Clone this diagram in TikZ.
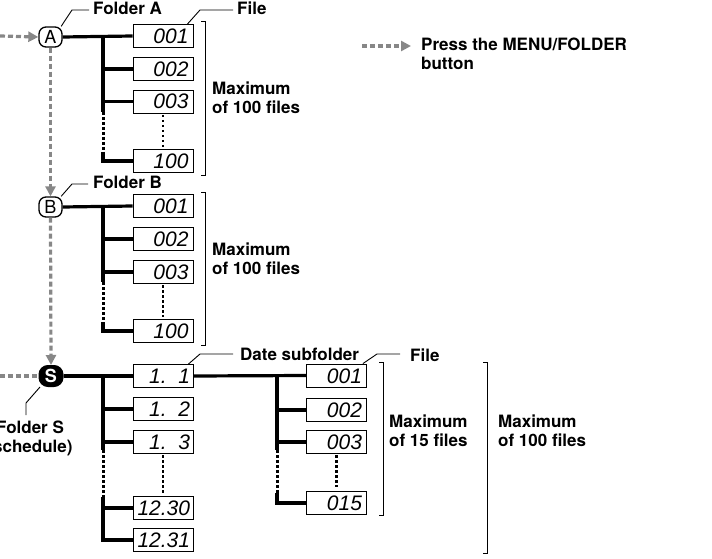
\documentclass[tikz,border=0pt]{standalone}
\usepackage{fontspec}
\setmainfont{TeX Gyre Heros}
\newfontfamily\lcdfont{Liberation Sans}
\usetikzlibrary{arrows.meta}
\begin{document}
\begin{tikzpicture}[x=1pt,y=-1pt,
  lbl/.style={font=\fontsize{17}{19}\selectfont\bfseries, inner sep=0pt, align=left},
  fold/.style={draw, line width=1.3pt, rounded corners=7pt, minimum width=23pt, minimum height=20pt, inner sep=0pt, font=\fontsize{18}{18}\selectfont},
  sfold/.style={draw, fill=black, text=white, line width=1pt, rounded corners=9pt, minimum width=24pt, minimum height=21pt, inner sep=0pt, font=\fontsize{18}{18}\selectfont\bfseries},
  lcd/.style={draw, line width=0.9pt, minimum width=60pt, minimum height=23pt, inner xsep=0pt, inner ysep=0pt, text width=51pt, align=right, text height=15pt, text depth=0pt, font=\lcdfont\itshape\fontsize{21}{21}\selectfont},
  branch/.style={line width=3.2pt},
  dots/.style={line width=3pt, dash pattern=on 3pt off 2pt},
  sdots/.style={line width=2.1pt, dash pattern=on 2.5pt off 2.5pt},
  brk/.style={line width=1pt},
  leader/.style={line width=0.9pt},
  garrow/.style={draw=black!47, line width=3.2pt, dash pattern=on 5pt off 3pt, -{Triangle[length=10pt,width=10pt]}},
  gline/.style={draw=black!47, line width=3.2pt, dash pattern=on 5pt off 3pt},
]
\useasboundingbox (0,0) rectangle (712,559);
\clip (0,0) rectangle (712,559);

% ---------- Folder A ----------
\node[fold] (A) at (50.5,37) {A};
\node[lcd] (fA1) at (163,36) {001};
\node[lcd] (fA2) at (163,69) {002};
\node[lcd] (fA3) at (163,101.5) {003};
\node[lcd] (fA4) at (163,161) {100};
\coordinate (tA) at (103,36);
\coordinate (tAd) at (103,112);
\coordinate (tAe) at (103,152);
\draw[branch] (A.east) -- (fA1.west);
\draw[branch] (tA) -- (tAd);
\draw[dots] (tAd) -- (tAe);
\draw[branch] (tAe) |- (fA4.west);
\draw[branch] (tA |- fA2.west) -- (fA2.west);
\draw[branch] (tA |- fA3.west) -- (fA3.west);
\draw[sdots, shorten <=1.5pt, shorten >=2pt] (fA3.south) -- (fA4.north);
\draw[brk] (201,22) -- (205,22) -- (205,175) -- (201,175);
\node[lbl, anchor=west] (mA) at (212,97.5) {Maximum\\of 100 files};
\node[lbl, anchor=west] (lA) at (93,8) {Folder A};
\draw[leader] (A.45) -- (72,10) -- (89,10);
\node[lbl, anchor=west] (fileA) at (237,8) {File};
\draw[leader] ([xshift=-6pt]fA1.north east) -- (200,10) -- (233,10);

% ---------- Folder B ----------
\node[fold] (B) at (50.5,207) {B};
\node[lcd] (fB1) at (163,206) {001};
\node[lcd] (fB2) at (163,239) {002};
\node[lcd] (fB3) at (163,272) {003};
\node[lcd] (fB4) at (163,331) {100};
\coordinate (tB) at (103,206);
\coordinate (tBd) at (103,282);
\coordinate (tBe) at (103,322);
\draw[branch] (B.east) -- (fB1.west);
\draw[branch] (tB) -- (tBd);
\draw[dots] (tBd) -- (tBe);
\draw[branch] (tBe) |- (fB4.west);
\draw[branch] (tB |- fB2.west) -- (fB2.west);
\draw[branch] (tB |- fB3.west) -- (fB3.west);
\draw[sdots, shorten <=1.5pt, shorten >=2pt] (fB3.south) -- (fB4.north);
\draw[brk] (201,192) -- (205,192) -- (205,345) -- (201,345);
\node[lbl, anchor=west] (mB) at (212,259) {Maximum\\of 100 files};
\node[lbl, anchor=west] (lB) at (93,182) {Folder B};
\draw[leader] (B.45) -- (72,184) -- (88,184);

% ---------- Folder S ----------
\node[sfold] (S) at (51,376) {S};
\node[lcd] (d1) at (163,376) {\phantom{1}1.\phantom{0}1};
\node[lcd] (d2) at (163,409) {\phantom{1}1.\phantom{0}2};
\node[lcd] (d3) at (163,442) {\phantom{1}1.\phantom{0}3};
\node[lcd] (d4) at (163,508) {12.30};
\node[lcd] (d5) at (163,540) {12.31};
\coordinate (tS) at (103,376);
\coordinate (tSd) at (103,450);
\coordinate (tSe) at (103,497);
\draw[branch] (S.east) -- (d1.west);
\draw[branch] (tS) -- (tSd);
\draw[dots] (tSd) -- (tSe);
\draw[branch] (tSe) |- (d5.west);
\draw[branch] (tS |- d2.west) -- (d2.west);
\draw[branch] (tS |- d3.west) -- (d3.west);
\draw[branch] (tS |- d4.west) -- (d4.west);
\draw[sdots, shorten <=1.5pt, shorten >=3pt] (d3.south) -- (d4.north);
\node[lbl, anchor=north, align=center] (lS) at (30,421) {Folder S\\(schedule)};
\draw[leader] (S.225) -- (26,403) -- (26,415);
\node[lbl, anchor=west] (lD) at (240,354) {Date subfolder};
\draw[leader] ([xshift=-5pt]d1.north east) -- (200,354) -- (233,354);

% ---------- Date subfolder files ----------
\node[lcd] (g1) at (336.5,375.5) {001};
\node[lcd] (g2) at (336.5,410) {002};
\node[lcd] (g3) at (336.5,442) {003};
\node[lcd] (g4) at (336.5,503) {015};
\coordinate (tG) at (277,376);
\coordinate (tGd) at (277,450);
\coordinate (tGe) at (277,493);
\draw[branch] (d1.east) -- (g1.west);
\draw[branch] (tG) -- (tGd);
\draw[dots] (tGd) -- (tGe);
\draw[branch] (tGe) |- (g4.west);
\draw[branch] (tG |- g2.west) -- (g2.west);
\draw[branch] (tG |- g3.west) -- (g3.west);
\draw[sdots, shorten <=1.5pt, shorten >=4pt] (g3.south) -- (g4.north);
\node[lbl, anchor=west] (fileG) at (410,355) {File};
\draw[leader] ([xshift=-4pt]g1.north east) -- (377,354) -- (400,354);
\draw[brk] (379,362) -- (383,362) -- (383,515) -- (379,515);
\node[lbl, anchor=west] (m15) at (389,431) {Maximum\\of 15 files};
\draw[brk] (483,362) -- (487,362) -- (487,553) -- (483,553);
\node[lbl, anchor=west] (m100) at (498,431) {Maximum\\of 100 files};

% ---------- gray dashed navigation ----------
\coordinate (inA) at (0,36);
\coordinate (inS) at (0,376);
\draw[garrow] (inA) -- (A.west);
\draw[garrow] (A.south) -- (B.north);
\draw[garrow] (B.south) -- (S.north);
\draw[gline] (inS) -- (S.west);

% ---------- legend ----------
\coordinate (lg1) at (362,46);
\coordinate (lg2) at (411,46);
\draw[garrow] (lg1) -- (lg2);
\node[lbl, anchor=west] (leg) at (421,53.5) {Press the MENU/FOLDER\\button};
\end{tikzpicture}
\end{document}
